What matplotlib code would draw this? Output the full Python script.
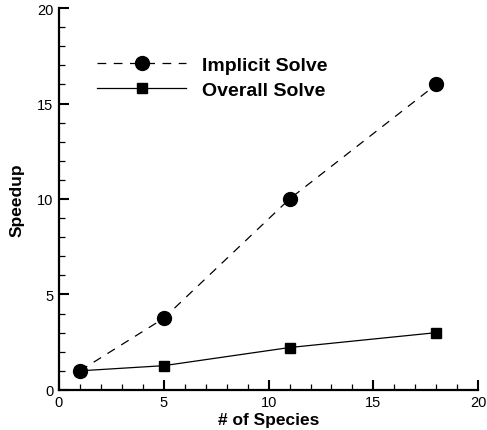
import matplotlib.pyplot as plt
from matplotlib.ticker import MultipleLocator

plt.rcParams['font.family'] = ['Liberation Sans', 'DejaVu Sans']

species = [1, 5, 11, 18]
implicit_speedup = [1.0, 3.75, 10.0, 16.0]
overall_speedup = [1.0, 1.27, 2.22, 3.0]

fig = plt.figure(figsize=(4.87, 4.31), dpi=100)
ax = fig.add_axes([0.121, 0.093, 0.861, 0.886])

ax.plot(species, implicit_speedup, color='black', lw=0.9, dashes=(7, 6),
        marker='o', markersize=10, label='Implicit Solve')
ax.plot(species, overall_speedup, color='black', lw=0.9,
        marker='s', markersize=7, label='Overall Solve')

ax.set_xlim(0, 20)
ax.set_ylim(0, 20)
ax.xaxis.set_major_locator(MultipleLocator(5))
ax.xaxis.set_minor_locator(MultipleLocator(1))
ax.yaxis.set_major_locator(MultipleLocator(5))
ax.yaxis.set_minor_locator(MultipleLocator(1))

for s in ['top', 'right']:
    ax.spines[s].set_visible(False)
for s in ['left', 'bottom']:
    ax.spines[s].set_linewidth(1.6)

ax.tick_params(which='major', direction='in', length=7, width=1.5, labelsize=10.5, pad=4)
ax.tick_params(which='minor', direction='in', length=4, width=0.9)

ax.set_xlabel('# of Species', fontsize=12.5, fontweight='bold', labelpad=2)
ax.set_ylabel('Speedup', fontsize=12.5, fontweight='bold', labelpad=9)

leg = ax.legend(loc='upper left', bbox_to_anchor=(0.049, 0.92), frameon=False,
                handlelength=4.6, handletextpad=0.82, labelspacing=0.4,
                prop={'size': 14, 'weight': 'bold'})

fig.savefig('out.png', dpi=100)
